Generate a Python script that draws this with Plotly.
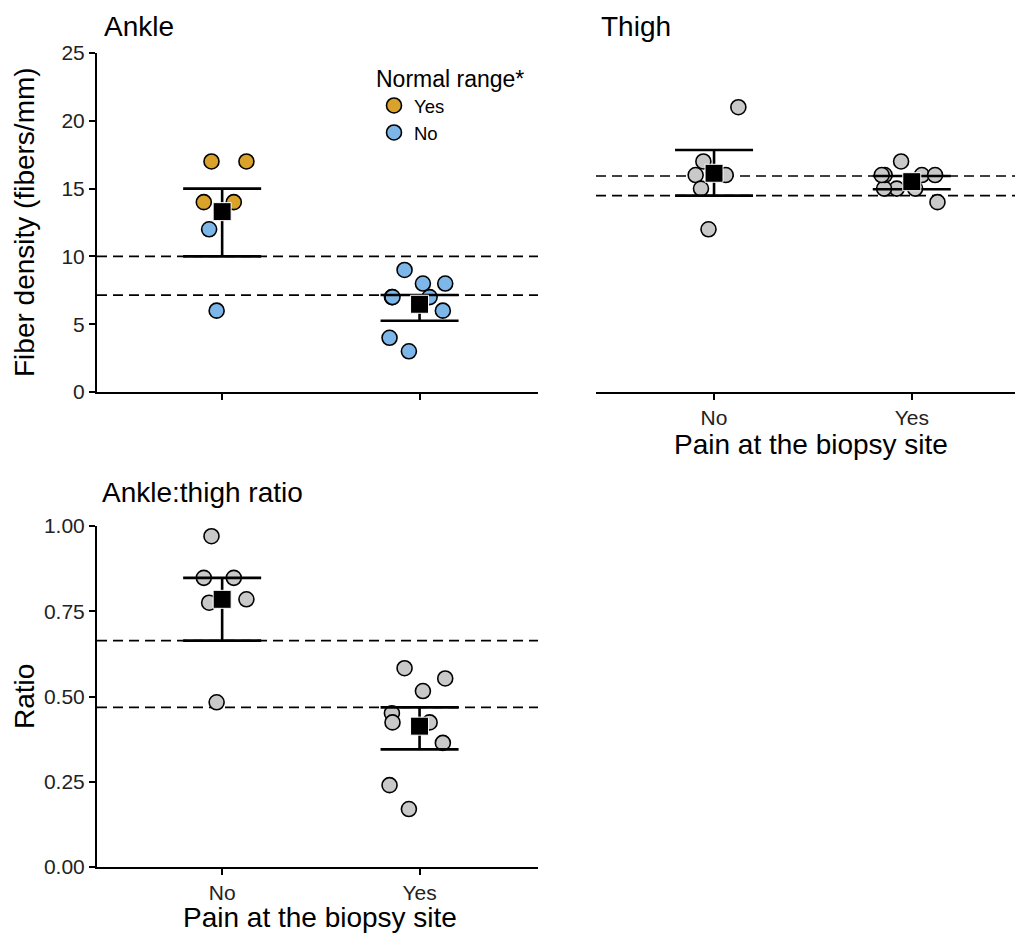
import plotly.graph_objects as go

W, H = 1023, 935
OFF = 8  # page body margin of the browser
FONT = "Liberation Sans, Arial, Helvetica, sans-serif"

# ---------------- data ----------------
groups = ["No", "Yes"]
group_pos = [1, 2]

# per-subject jitter (x units) shared across panels
jit_no = [-0.054, 0.123, -0.093, 0.059, -0.066, -0.028]
jit_yes = [-0.076, 0.017, 0.130, -0.140, -0.137, 0.051, 0.118, -0.152, -0.054]

ankle_no = [17, 17, 14, 14, 12, 6]
ankle_no_normal = ["Yes", "Yes", "Yes", "Yes", "No", "No"]
ankle_yes = [9, 8, 8, 7, 7, 7, 6, 4, 3]
ankle_yes_normal = ["No"] * 9

thigh_no = [17, 21, 16, 16, 15, 12]
thigh_yes = [15, 15, 14, 15, 16, 16, 16, 16, 17]

ratio_no = [0.97, 0.785, 0.848, 0.848, 0.775, 0.483]
ratio_yes = [0.583, 0.516, 0.553, 0.451, 0.424, 0.424, 0.364, 0.240, 0.170]

ankle_mean = [13.3, 6.47]
ankle_lo = [10.0, 5.25]
ankle_hi = [15.0, 7.15]
thigh_mean = [16.13, 15.51]
thigh_lo = [14.48, 14.95]
thigh_hi = [17.85, 15.93]
ratio_mean = [0.785, 0.413]
ratio_lo = [0.664, 0.345]
ratio_hi = [0.848, 0.468]

fiber_ticks = [0, 5, 10, 15, 20, 25]
ratio_ticks = [0, 0.25, 0.5, 0.75, 1.0]
ratio_ticktext = ["0.00", "0.25", "0.50", "0.75", "1.00"]

COL_YES = "#D9A22B"
COL_NO = "#7DB7EA"
COL_GREY = "#C9C9C9"

# ---------------- helpers ----------------
def px(x):
    return (x - OFF) / W

def py(y):
    return 1 - (y - OFF) / H

fig = go.Figure()

def points(xs, ys, color, xa, ya, name=None, legend=False, group=None):
    fig.add_trace(go.Scatter(
        x=xs, y=ys, mode="markers", xaxis=xa, yaxis=ya,
        name=name, showlegend=legend, legendgroup=group,
        marker=dict(size=15, color=color, line=dict(color="black", width=1.6)),
        hoverinfo="skip"))

def summary(means, lo, hi, xa, ya):
    fig.add_trace(go.Scatter(
        x=group_pos, y=means, mode="markers", xaxis=xa, yaxis=ya, showlegend=False,
        marker=dict(symbol="square", size=18, color="black", line=dict(color="white", width=1)),
        error_y=dict(type="data", symmetric=False,
                     array=[h - m for h, m in zip(hi, means)],
                     arrayminus=[m - l for m, l in zip(means, lo)],
                     color="black", thickness=2.6, width=39),
        hoverinfo="skip"))

def dashed(vals, xa, ya):
    for v in vals:
        fig.add_shape(type="line", xref=f"{xa} domain", yref=ya, x0=0, x1=1, y0=v, y1=v,
                      line=dict(color="black", width=1.7, dash="10px,6px"), layer="below")

# ---------------- Ankle ----------------
dashed([ankle_lo[0], ankle_hi[1]], "x", "y")
ax_x = [group_pos[0] + j for j in jit_no] + [group_pos[1] + j for j in jit_yes]
ax_y = ankle_no + ankle_yes
ax_n = ankle_no_normal + ankle_yes_normal
for lab, col in [("Yes", COL_YES), ("No", COL_NO)]:
    xs = [x for x, n in zip(ax_x, ax_n) if n == lab]
    ys = [y for y, n in zip(ax_y, ax_n) if n == lab]
    points(xs, ys, col, "x", "y", name=lab, legend=True, group=lab)
summary(ankle_mean, ankle_lo, ankle_hi, "x", "y")

# ---------------- Thigh ----------------
dashed([thigh_lo[0], thigh_hi[1]], "x2", "y2")
points([group_pos[0] + j for j in jit_no] + [group_pos[1] + j for j in jit_yes],
       thigh_no + thigh_yes, COL_GREY, "x2", "y2")
summary(thigh_mean, thigh_lo, thigh_hi, "x2", "y2")

# ---------------- Ratio ----------------
dashed([ratio_lo[0], ratio_hi[1]], "x3", "y3")
points([group_pos[0] + j for j in jit_no] + [group_pos[1] + j for j in jit_yes],
       ratio_no + ratio_yes, COL_GREY, "x3", "y3")
summary(ratio_mean, ratio_lo, ratio_hi, "x3", "y3")

# ---------------- axes ----------------
axis_common = dict(showline=True, linecolor="black", linewidth=2, ticks="outside",
                   ticklen=6, tickwidth=1.6, tickcolor="black", showgrid=False,
                   zeroline=False, automargin=False,
                   tickfont=dict(family=FONT, size=21, color="#222"))

fig.update_layout(
    xaxis=dict(axis_common, domain=[px(97), px(538)], range=[0.366, 2.6], anchor="y",
               tickvals=group_pos, ticktext=["", ""]),
    yaxis=dict(axis_common, domain=[py(392), py(53)], range=[0, 25], anchor="x",
               tickvals=fiber_ticks),
    xaxis2=dict(axis_common, domain=[px(596), 1.0], range=[0.403, 2.603], anchor="y2",
                tickvals=group_pos, ticktext=groups, ticklabelstandoff=0),
    yaxis2=dict(domain=[py(392), py(53)], range=[0, 25], anchor="x2", visible=False,
                automargin=False),
    xaxis3=dict(axis_common, domain=[px(97), px(538)], range=[0.366, 2.6], anchor="y3",
                tickvals=group_pos, ticktext=groups, ticklabelstandoff=0),
    yaxis3=dict(axis_common, domain=[py(867), py(526)], range=[0, 1], anchor="x3",
                tickvals=ratio_ticks, ticktext=ratio_ticktext),
)

annots = [
    dict(text="Ankle", x=px(102), y=py(26), xanchor="left", yanchor="middle", font=dict(size=28)),
    dict(text="Thigh", x=px(599), y=py(26), xanchor="left", yanchor="middle", font=dict(size=28)),
    dict(text="Ankle:thigh ratio", x=px(100), y=py(493), xanchor="left", yanchor="middle",
         font=dict(size=28)),
    dict(text="Fiber density (fibers/mm)", x=px(24), y=py(222), xanchor="center", yanchor="middle",
         textangle=-90, font=dict(size=28)),
    dict(text="Ratio", x=px(24), y=py(697), xanchor="center", yanchor="middle",
         textangle=-90, font=dict(size=28)),
    dict(text="Pain at the biopsy site", x=px(811), y=py(444), xanchor="center", yanchor="middle",
         font=dict(size=28)),
    dict(text="Pain at the biopsy site", x=px(320), y=py(917), xanchor="center", yanchor="middle",
         font=dict(size=28)),
]
for a in annots:
    a.update(xref="paper", yref="paper", showarrow=False)
    a["font"] = dict(family=FONT, color="black", **a["font"])
fig.update_layout(annotations=annots)

fig.update_layout(
    width=W, height=H, margin=dict(l=0, r=0, t=0, b=0, autoexpand=False),
    paper_bgcolor="white", plot_bgcolor="white",
    font=dict(family=FONT, color="black"),
    legend=dict(title=dict(text="Normal range*", font=dict(family=FONT, size=23)),
                x=px(374), y=py(57), xanchor="left", yanchor="top",
                bgcolor="rgba(0,0,0,0)", font=dict(family=FONT, size=18.5),
                tracegroupgap=0, itemsizing="trace"),
    showlegend=True,
)

fig.write_html("out.html")
